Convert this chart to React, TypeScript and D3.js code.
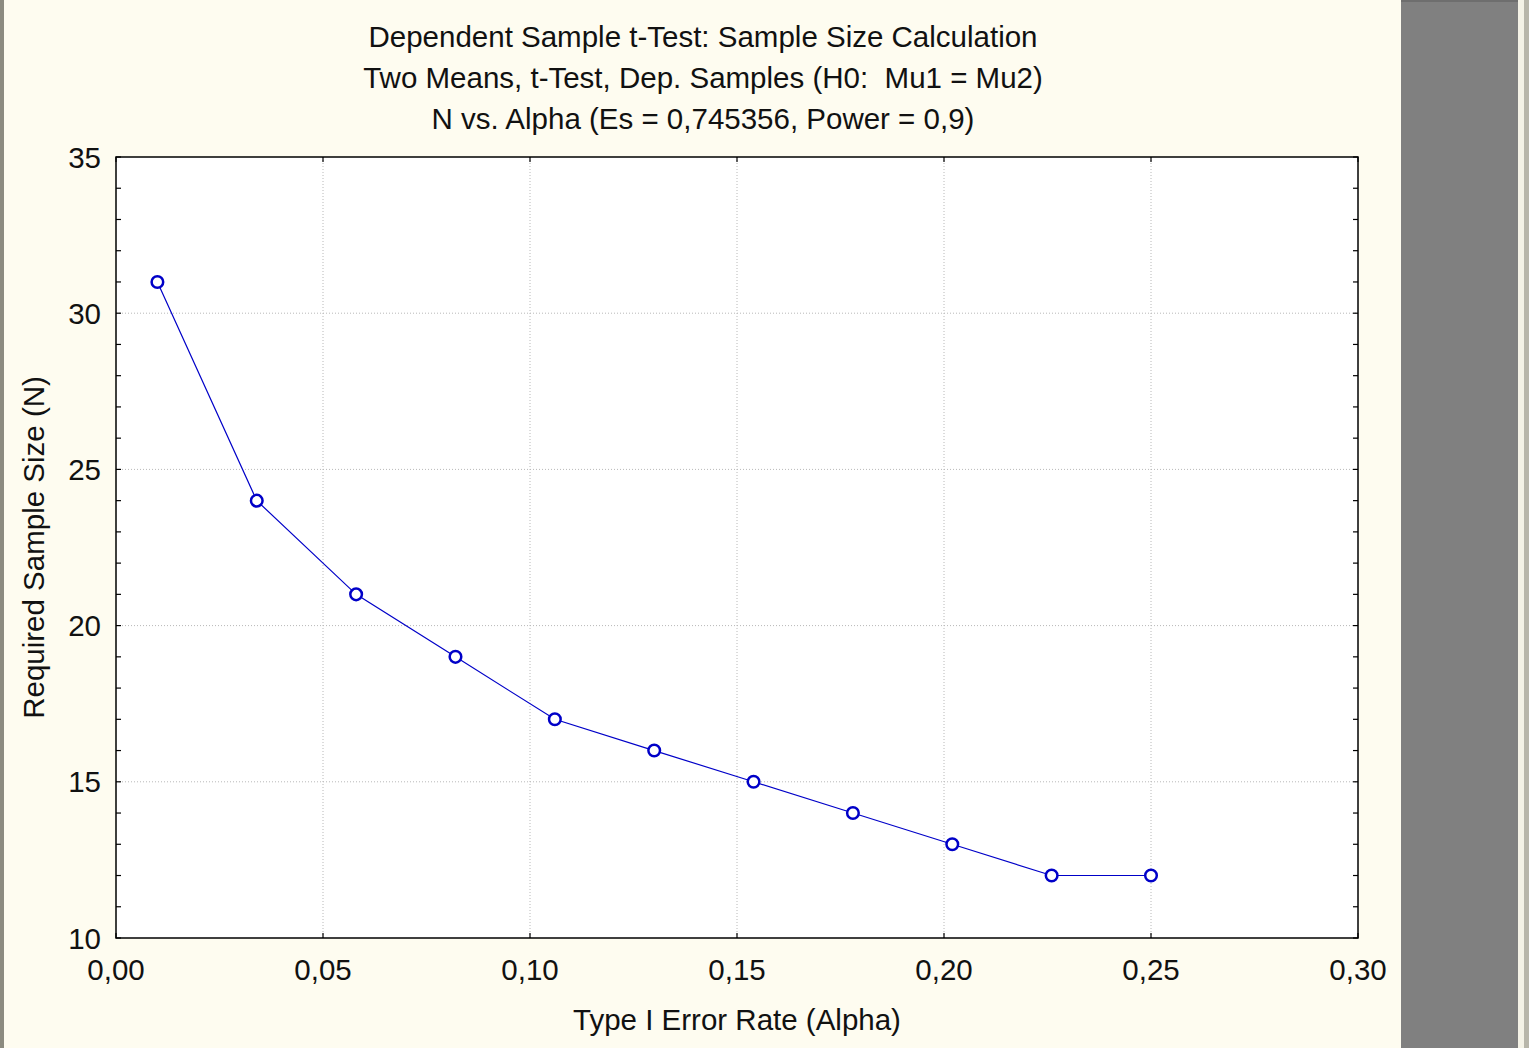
import React from "react";
import * as d3 from "d3";

// Type I error rates evaluated and the required sample size at each
const alphaValues = [0.01, 0.034, 0.058, 0.082, 0.106, 0.13, 0.154, 0.178, 0.202, 0.226, 0.25];
const sampleSizes = [31, 24, 21, 19, 17, 16, 15, 14, 13, 12, 12];

const xTicks = [0, 0.05, 0.1, 0.15, 0.2, 0.25, 0.3];
const yTicks = [10, 15, 20, 25, 30, 35];
const yMinorTicks = d3.range(10, 36, 1);

const titleLines = [
  "Dependent Sample t-Test: Sample Size Calculation",
  "Two Means, t-Test, Dep. Samples (H0:  Mu1 = Mu2)",
  "N vs. Alpha (Es = 0,745356, Power = 0,9)",
];
const xTitle = "Type I Error Rate (Alpha)";
const yTitle = "Required Sample Size (N)";

const W = 1529;
const H = 1048;
const plot = { left: 116, right: 1358, top: 157, bottom: 938 };
const font = "'Liberation Sans', Arial, sans-serif";
const fs = 29.5;
const fmt = (v: number) => d3.format(".2f")(v).replace(".", ",");

export default function App() {
  const x = d3.scaleLinear().domain([0, 0.3]).range([plot.left, plot.right]);
  const y = d3.scaleLinear().domain([10, 35]).range([plot.bottom, plot.top]);
  const pts = alphaValues.map((a, i) => [a, sampleSizes[i]] as [number, number]);
  const line = d3
    .line<[number, number]>()
    .x((d) => x(d[0]))
    .y((d) => y(d[1]));

  return (
    <svg
      width={W}
      height={H}
      style={{ position: "absolute", left: 0, top: 0, display: "block", whiteSpace: "pre" }}
      fontFamily={font}
    >
      {/* window background */}
      <rect x={0} y={0} width={W} height={H} fill="#fefcf0" />
      <rect x={0} y={0} width={4} height={H} fill="#8c8b80" />
      <rect x={1401} y={0} width={117} height={H} fill="#808080" />
      <rect x={1401} y={0} width={117} height={2} fill="#6e6e6e" />
      <rect x={1518} y={0} width={11} height={H} fill="#f4f2e6" />
      <rect x={1524} y={0} width={5} height={H} fill="#b8b6aa" />

      {/* plot area */}
      <rect
        x={plot.left}
        y={plot.top}
        width={plot.right - plot.left}
        height={plot.bottom - plot.top}
        fill="#ffffff"
      />

      {/* grid */}
      {xTicks.slice(1, -1).map((t) => (
        <line
          key={"gx" + t}
          x1={x(t)}
          x2={x(t)}
          y1={plot.top}
          y2={plot.bottom}
          stroke="#b8b8b8"
          strokeWidth={1}
          strokeDasharray="1,2"
        />
      ))}
      {yTicks.slice(1, -1).map((t) => (
        <line
          key={"gy" + t}
          x1={plot.left}
          x2={plot.right}
          y1={y(t)}
          y2={y(t)}
          stroke="#b8b8b8"
          strokeWidth={1}
          strokeDasharray="1,2"
        />
      ))}

      {/* inward ticks */}
      {yMinorTicks.map((t) => (
        <g key={"ty" + t}>
          <line x1={plot.left} x2={plot.left + 5} y1={y(t)} y2={y(t)} stroke="#000" strokeWidth={1.2} />
          <line x1={plot.right} x2={plot.right - 5} y1={y(t)} y2={y(t)} stroke="#000" strokeWidth={1.2} />
        </g>
      ))}
      {xTicks.map((t) => (
        <g key={"tx" + t}>
          <line x1={x(t)} x2={x(t)} y1={plot.bottom} y2={plot.bottom - 5} stroke="#000" strokeWidth={1.2} />
          <line x1={x(t)} x2={x(t)} y1={plot.top} y2={plot.top + 5} stroke="#000" strokeWidth={1.2} />
        </g>
      ))}

      {/* frame */}
      <rect
        x={plot.left}
        y={plot.top}
        width={plot.right - plot.left}
        height={plot.bottom - plot.top}
        fill="none"
        stroke="#000"
        strokeWidth={1.5}
      />

      {/* series */}
      <path d={line(pts) ?? ""} fill="none" stroke="#0000c8" strokeWidth={1.2} />
      {pts.map((p, i) => (
        <circle
          key={"p" + i}
          cx={x(p[0])}
          cy={y(p[1])}
          r={5.8}
          fill="#ffffff"
          stroke="#0000c8"
          strokeWidth={2.5}
        />
      ))}

      {/* tick labels */}
      {yTicks.map((t) => (
        <text key={"ly" + t} x={101} y={y(t) + 10.5} textAnchor="end" fontSize={fs} fill="#111">
          {t}
        </text>
      ))}
      {xTicks.map((t) => (
        <text key={"lx" + t} x={x(t)} y={980} textAnchor="middle" fontSize={fs} fill="#111">
          {fmt(t)}
        </text>
      ))}

      {/* titles */}
      {titleLines.map((s, i) => (
        <text
          key={"t" + i}
          x={703}
          y={47 + i * 41}
          textAnchor="middle"
          fontSize={fs}
          fill="#111"
          xmlSpace="preserve"
        >
          {s}
        </text>
      ))}
      <text x={737} y={1030} textAnchor="middle" fontSize={fs} fill="#111">
        {xTitle}
      </text>
      <text
        transform={`translate(44, ${(plot.top + plot.bottom) / 2}) rotate(-90)`}
        textAnchor="middle"
        fontSize={fs}
        fill="#111"
      >
        {yTitle}
      </text>
    </svg>
  );
}
